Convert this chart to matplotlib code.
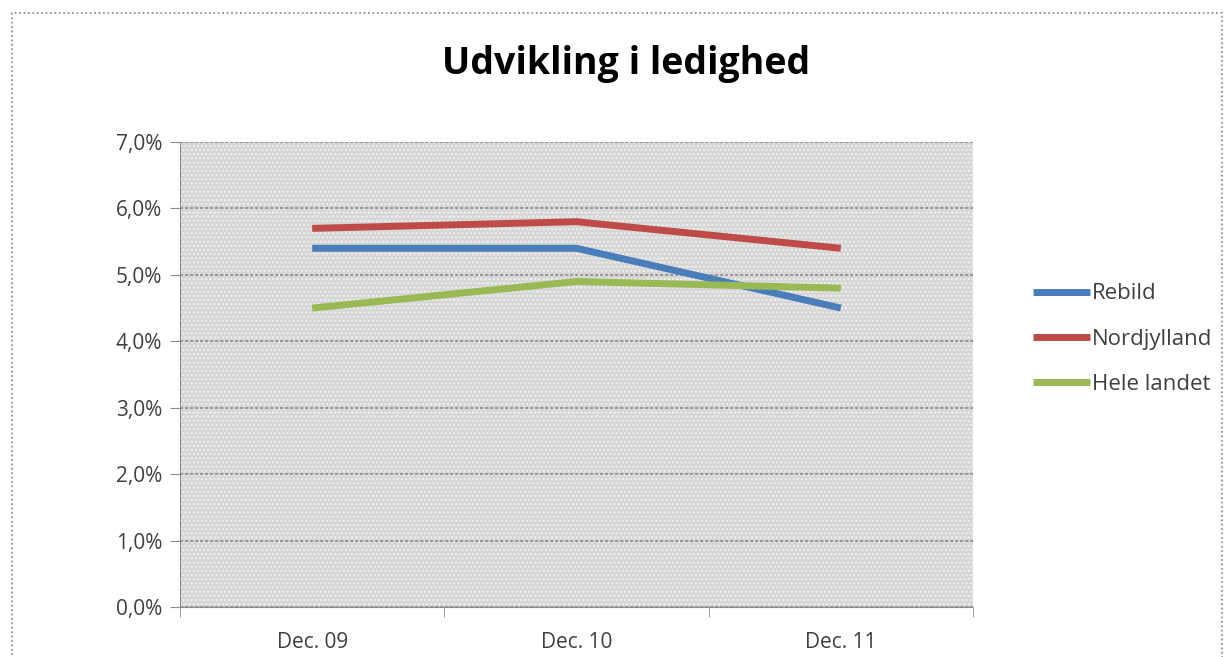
import matplotlib.pyplot as plt
from matplotlib.patches import Rectangle
from matplotlib.ticker import FuncFormatter

# data
categories = ['Dec. 09', 'Dec. 10', 'Dec. 11']
rebild = [5.4, 5.4, 4.5]
nordjylland = [5.7, 5.8, 5.4]
hele_landet = [4.5, 4.9, 4.8]

series = [('Rebild', rebild, '#4a7ebb'),
          ('Nordjylland', nordjylland, '#be4b48'),
          ('Hele landet', hele_landet, '#98b954')]

plt.rcParams['font.family'] = ['Open Sans', 'DejaVu Sans']

fig = plt.figure(figsize=(12.27, 6.57), dpi=100)
ax = fig.add_axes([180/1227, 50/657, 793/1227, 465/657])

# dotted background of the plot area
ax.set_facecolor('#d6d6d6')
ax.add_patch(Rectangle((0, 0), 1, 1, transform=ax.transAxes, facecolor='none',
                       edgecolor='#f2f2f2', hatch='....', linewidth=0, zorder=0))

x = range(len(categories))
for name, vals, col in series:
    ax.plot(x, vals, color=col, linewidth=5, solid_capstyle='butt', label=name, zorder=3)

ax.set_xlim(-0.5, 2.5)
ax.set_ylim(0, 7)
ax.set_yticks(range(0, 8))
ax.yaxis.set_major_formatter(FuncFormatter(lambda v, p: f'{v:.1f}%'.replace('.', ',')))
ax.grid(axis='y', color='#8c8c8c', linewidth=1.2, linestyle=(0, (2, 1)), zorder=1)

ax.set_xticks(list(x))
ax.set_xticklabels(categories)
ax.set_xticks([-0.5, 0.5, 1.5, 2.5], minor=True)
ax.tick_params(axis='x', which='major', length=0, pad=18, labelsize=15, labelcolor='#404040')
ax.tick_params(axis='x', which='minor', length=7, color='#8c8c8c')
ax.tick_params(axis='y', length=7, color='#8c8c8c', labelsize=15, labelcolor='#404040', pad=6)

for s in ['top', 'right']:
    ax.spines[s].set_visible(False)
for s in ['left', 'bottom']:
    ax.spines[s].set_color('#8c8c8c')
    ax.spines[s].set_linestyle((0, (2, 1)))

fig.text(626/1227, 1 - 64/657, 'Udvikling i ledighed', ha='center', va='center',
         fontsize=27, fontweight='bold', color='black')

leg = ax.legend(loc='center left', bbox_to_anchor=(1.064, 0.576), frameon=False,
                borderaxespad=0, fontsize=16, handlelength=2.6, handletextpad=0.05,
                labelspacing=1.09)
for t in leg.get_texts():
    t.set_color('#404040')

# dotted outer border of the chart
fig.patches.append(Rectangle((12/1227, -0.05), 1210/1227, 1 - 13/657 + 0.05,
                             transform=fig.transFigure, fill=False,
                             edgecolor='#808080', linestyle=':', linewidth=1.2))

fig.savefig('out.png', dpi=100)
